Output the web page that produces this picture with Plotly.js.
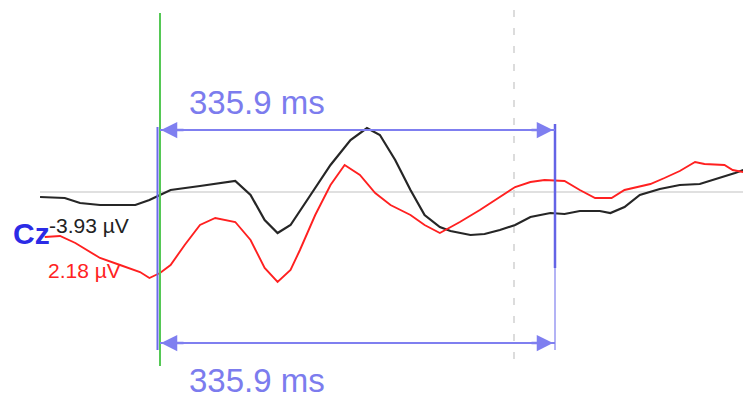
<!DOCTYPE html>
<html>
<head>
<meta charset="utf-8">
<script src="https://cdn.plot.ly/plotly-3.0.1.min.js"></script>
<style>html,body{margin:0;padding:0;background:#fff;}#chart{width:743px;height:398px;}</style>
</head>
<body>
<div id="chart"></div>
<script>
// Cz channel, time in ms relative to the green marker, amplitude in µV
const blackTime = [-102,-81,-68,-51,-21,-9,0,9,34,64,77,89,100,111,128,145,162,176,187,200,213,225,238,247,264,276,289,302,315,332,344,357,374,383,395,408,425,442,459,476,489,496];
const blackUv   = [-0.25,-0.3,-0.55,-0.65,-0.65,-0.4,-0.15,0.1,0.3,0.55,-0.15,-1.4,-2.05,-1.65,-0.15,1.35,2.6,3.2,2.85,1.6,0.1,-1.15,-1.75,-1.95,-2.15,-2.1,-1.9,-1.65,-1.25,-1.05,-1.1,-0.95,-0.95,-1.05,-0.75,-0.15,0.15,0.35,0.4,0.7,0.95,1.1];
const redTime = [-98,-85,-72,-51,-34,-17,-9,0,9,21,34,47,64,77,89,100,111,119,132,145,157,170,183,196,213,225,238,255,272,289,302,315,327,344,357,370,384,395,417,429,442,455,463,480,487,496];
const redUv   = [-2.25,-2.2,-2.55,-3.3,-3.65,-4.0,-4.3,-4.05,-3.65,-2.65,-1.65,-1.3,-1.5,-2.4,-3.8,-4.5,-3.9,-2.9,-1.15,0.35,1.35,0.85,-0.05,-0.65,-1.15,-1.65,-2.05,-1.5,-0.9,-0.25,0.25,0.5,0.6,0.55,0.1,-0.3,-0.3,0.1,0.4,0.7,1.05,1.5,1.4,1.35,1.1,1.0];
const latencyMs = 335.9;
const latencyLabel = latencyMs.toFixed(1) + ' ms';
const channelLabel = 'Cz';
const blackLabel = '-3.93 µV';
const redLabel = '2.18 µV';

// layout helpers (pixel -> axis) for placing decorations
const msPerPx = latencyMs / 395;
const t = px => (px - 160) * msPerPx;
const v = py => (192 - py) / 20;

const traces = [
  {x: blackTime, y: blackUv, type: 'scatter', mode: 'lines', line: {color: '#262626', width: 2.2}, hoverinfo: 'skip'},
  {x: redTime, y: redUv, type: 'scatter', mode: 'lines', line: {color: '#ff2020', width: 1.9}, hoverinfo: 'skip'}
];

const arrowCol = '#7f7ff0';
const shapes = [
  {type: 'line', x0: t(40), x1: t(743), y0: 0, y1: 0, line: {color: '#d6d6d6', width: 1.5}, layer: 'below'},
  {type: 'line', x0: t(514), x1: t(514), y0: v(10), y1: v(368), line: {color: '#dcdcdc', width: 2, dash: '7px,11px'}, layer: 'below'},
  {type: 'line', x0: t(157.5), x1: t(157.5), y0: v(127), y1: v(350), line: {color: '#6b6bea', width: 2}},
  {type: 'line', x0: 0, x1: 0, y0: v(13), y1: v(366), line: {color: '#55c855', width: 2}},
  {type: 'line', x0: latencyMs, x1: latencyMs, y0: v(124), y1: v(268), line: {color: '#6464e6', width: 2.5}},
  {type: 'line', x0: latencyMs, x1: latencyMs, y0: v(268), y1: v(350), line: {color: '#9a9af2', width: 1.5}},
  {type: 'line', x0: 0, x1: latencyMs, y0: v(130), y1: v(130), line: {color: arrowCol, width: 2}},
  {type: 'line', x0: 0, x1: latencyMs, y0: v(343), y1: v(343), line: {color: arrowCol, width: 2}}
];

function arrowAnn(xTip, yTip, xTail) {
  return {x: xTip, y: yTip, ax: xTail, ay: yTip, xref: 'x', yref: 'y', axref: 'x', ayref: 'y',
    text: '', showarrow: true, arrowhead: 2, arrowsize: 1.3, arrowwidth: 2.5, arrowcolor: arrowCol, standoff: 0};
}

const annotations = [
  arrowAnn(t(161), v(130), t(185)),
  arrowAnn(t(553), v(130), t(530)),
  arrowAnn(t(161), v(343), t(185)),
  arrowAnn(t(553), v(343), t(530)),
  {x: t(187), y: v(102), xref: 'x', yref: 'y', text: latencyLabel, showarrow: false, xanchor: 'left', yanchor: 'middle',
    font: {family: 'Liberation Sans, Arial, sans-serif', size: 33, color: '#7c7cee'}},
  {x: t(187), y: v(380), xref: 'x', yref: 'y', text: latencyLabel, showarrow: false, xanchor: 'left', yanchor: 'middle',
    font: {family: 'Liberation Sans, Arial, sans-serif', size: 33, color: '#7c7cee'}},
  {x: t(11), y: v(233), xref: 'x', yref: 'y', text: '<b>' + channelLabel + '</b>', showarrow: false, xanchor: 'left', yanchor: 'middle',
    font: {family: 'Liberation Sans Narrow, Liberation Sans, Arial, sans-serif', size: 30, color: '#2b2be6'}},
  {x: t(47), y: v(225), xref: 'x', yref: 'y', text: blackLabel, showarrow: false, xanchor: 'left', yanchor: 'middle',
    font: {family: 'Liberation Sans, Arial, sans-serif', size: 21, color: '#222222'}},
  {x: t(46), y: v(270), xref: 'x', yref: 'y', text: redLabel, showarrow: false, xanchor: 'left', yanchor: 'middle',
    font: {family: 'Liberation Sans, Arial, sans-serif', size: 21, color: '#ff2222'}}
];

const layout = {
  width: 743, height: 398,
  margin: {l: 0, r: 0, t: 0, b: 0, pad: 0},
  paper_bgcolor: '#ffffff', plot_bgcolor: '#ffffff',
  showlegend: false,
  xaxis: {range: [t(0), t(743)], visible: false, fixedrange: true},
  yaxis: {range: [v(398), v(0)], visible: false, fixedrange: true},
  shapes: shapes,
  annotations: annotations
};

Plotly.newPlot('chart', traces, layout, {staticPlot: true, displayModeBar: false});
</script>
</body>
</html>
